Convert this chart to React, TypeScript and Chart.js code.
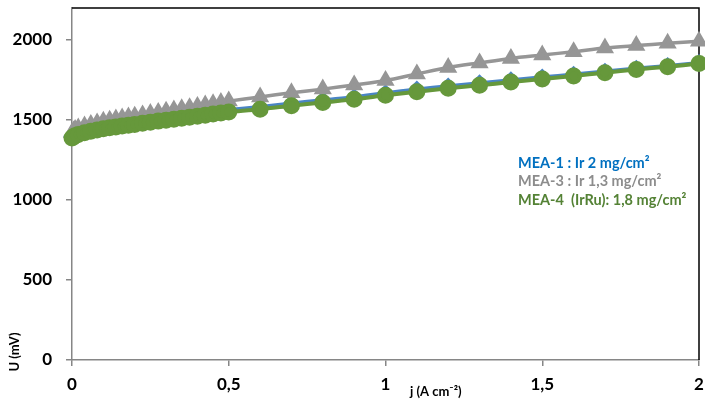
import React, { useEffect, useRef } from 'react';
import { Chart, registerables } from 'chart.js';

Chart.register(...registerables);

// Current density j (A cm-2)
const jValues = [
  0, 0.005, 0.01, 0.02, 0.04, 0.06, 0.08, 0.1, 0.12, 0.14, 0.16, 0.18, 0.2,
  0.225, 0.25, 0.275, 0.3, 0.325, 0.35, 0.375, 0.4, 0.425, 0.45, 0.475, 0.5,
  0.6, 0.7, 0.8, 0.9, 1.0, 1.1, 1.2, 1.3, 1.4, 1.5, 1.6, 1.7, 1.8, 1.9, 2.0,
];

// MEA-1 : Ir 2 mg/cm² (blue)
const mea1 = [
  1398, 1406, 1412, 1420, 1431, 1440, 1448, 1455, 1462, 1468, 1473, 1478, 1484,
  1491, 1498, 1505, 1511, 1517, 1523, 1529, 1535, 1542, 1549, 1556, 1563,
  1581, 1603, 1624, 1643, 1668, 1691, 1711, 1730, 1749, 1767, 1784, 1803, 1822, 1838, 1857,
];

// MEA-3 : Ir 1,3 mg/cm² (grey)
const mea3 = [
  1420, 1432, 1440, 1450, 1462, 1472, 1482, 1492, 1499, 1506, 1512, 1518, 1524,
  1532, 1540, 1547, 1555, 1562, 1570, 1577, 1585, 1593, 1601, 1609, 1618,
  1644, 1670, 1693, 1719, 1747, 1788, 1828, 1857, 1885, 1906, 1927, 1950, 1965, 1979, 1992,
];

// MEA-4 (IrRu): 1,8 mg/cm² (green)
const mea4 = [
  1388, 1396, 1402, 1410, 1421, 1430, 1438, 1445, 1451, 1457, 1462, 1467, 1472,
  1479, 1486, 1493, 1499, 1505, 1511, 1517, 1523, 1530, 1537, 1544, 1550,
  1567, 1589, 1610, 1629, 1654, 1677, 1698, 1717, 1737, 1756, 1775, 1796, 1816, 1833, 1853,
];

const xTicks = [0, 0.5, 1, 1.5, 2];
const yTicks = [0, 500, 1000, 1500, 2000];
const seriesLabels = ['MEA-1 : Ir 2 mg/cm²', 'MEA-3 : Ir 1,3 mg/cm²', 'MEA-4  (IrRu): 1,8 mg/cm²'];
const legendColors = ['#0070C0', '#8C8C8C', '#548235'];
const xTitle = 'j (A cm⁻²)';
const yTitle = 'U (mV)';

const FONT = 'Lato, "Open Sans", "Liberation Sans", sans-serif';

const toPoints = (ys: number[]) => jValues.map((x, i) => ({ x, y: ys[i] }));

const zeroPad = (s: any) => {
  s.paddingTop = 0;
  s.paddingBottom = 0;
  s.paddingLeft = 0;
  s.paddingRight = 0;
};

const decorPlugin = {
  id: 'decor',
  beforeDatasetsDraw(chart: any) {
    const { ctx, chartArea: a } = chart;
    ctx.save();
    ctx.strokeStyle = '#000000';
    ctx.lineWidth = 1.5;
    ctx.beginPath();
    ctx.moveTo(a.left, a.top);
    ctx.lineTo(a.right, a.top);
    ctx.lineTo(a.right, a.bottom);
    ctx.stroke();
    ctx.restore();
  },
  afterDraw(chart: any) {
    const { ctx, chartArea: a } = chart;
    ctx.save();
    // legend text
    ctx.font = `bold 14.5px ${FONT}`;
    ctx.textAlign = 'left';
    ctx.textBaseline = 'middle';
    const lx = a.left + 446;
    seriesLabels.forEach((t, i) => {
      ctx.fillStyle = legendColors[i];
      ctx.fillText(t, lx, a.top + 155 + i * 18.5);
    });
    // x title
    ctx.fillStyle = '#000';
    ctx.font = `bold 13px ${FONT}`;
    ctx.textAlign = 'left';
    ctx.fillText(xTitle, 410, 392);
    // y title
    ctx.font = `bold 13px ${FONT}`;
    ctx.translate(15, 352);
    ctx.rotate(-Math.PI / 2);
    ctx.textAlign = 'center';
    ctx.fillText(yTitle, 0, 0);
    ctx.restore();
  },
};

export default function App() {
  const ref = useRef<HTMLCanvasElement>(null);

  useEffect(() => {
    if (!ref.current) return;
    const chart = new Chart(ref.current, {
      type: 'scatter',
      data: {
        datasets: [
          {
            label: seriesLabels[2],
            data: toPoints(mea4),
            showLine: true,
            borderColor: '#66983B',
            backgroundColor: '#66983B',
            pointBackgroundColor: '#66983B',
            pointBorderColor: '#66983B',
            borderWidth: 4,
            pointRadius: 6.5,
            pointStyle: 'circle',
            tension: 0.3,
            order: 0,
            clip: false,
          },
          {
            label: seriesLabels[1],
            data: toPoints(mea3),
            showLine: true,
            borderColor: '#969696',
            backgroundColor: '#969696',
            pointBackgroundColor: '#969696',
            pointBorderColor: '#969696',
            borderWidth: 3.5,
            pointRadius: 7,
            pointStyle: 'triangle',
            tension: 0.3,
            order: 1,
            clip: false,
          },
          {
            label: seriesLabels[0],
            data: toPoints(mea1),
            showLine: true,
            borderColor: '#4A85C4',
            backgroundColor: '#4A85C4',
            pointBackgroundColor: '#4A85C4',
            pointBorderColor: '#4A85C4',
            borderWidth: 4,
            pointRadius: 6,
            pointStyle: 'rectRot',
            tension: 0.3,
            order: 2,
            clip: false,
          },
        ],
      },
      options: {
        responsive: false,
        animation: false,
        devicePixelRatio: 1,
        layout: { autoPadding: false, padding: { left: 0, right: 6, top: 8, bottom: 0 } },
        plugins: {
          legend: { display: false },
          tooltip: { enabled: false },
        },
        scales: {
          x: {
            type: 'linear',
            min: 0,
            max: 2,
            afterBuildTicks: (s: any) => {
              s.ticks = xTicks.map((v) => ({ value: v }));
            },
            afterFit: (s: any) => {
              s.height = 41;
              zeroPad(s);
            },
            ticks: {
              autoSkip: false,
              maxRotation: 0,
              padding: 8,
              color: '#000',
              font: { family: FONT, size: 17, weight: 'bold' },
              callback: (v: any) => String(v).replace('.', ','),
            },
            grid: {
              display: true,
              drawOnChartArea: false,
              drawTicks: true,
              tickLength: 6,
              color: '#868686',
              lineWidth: 1.5,
            },
            border: { display: true, color: '#868686', width: 1.5 },
          },
          y: {
            type: 'linear',
            min: 0,
            max: 2200,
            afterBuildTicks: (s: any) => {
              s.ticks = yTicks.map((v) => ({ value: v }));
            },
            afterFit: (s: any) => {
              s.width = 72;
              zeroPad(s);
            },
            ticks: {
              autoSkip: false,
              padding: 14,
              color: '#000',
              font: { family: FONT, size: 17, weight: 'bold' },
              callback: (v: any) => String(v),
            },
            grid: {
              display: true,
              drawOnChartArea: false,
              drawTicks: true,
              tickLength: 6,
              color: '#868686',
              lineWidth: 1.5,
            },
            border: { display: true, color: '#868686', width: 1.5 },
          },
        },
      },
      plugins: [decorPlugin],
    });
    return () => chart.destroy();
  }, []);

  return (
    <div style={{ position: 'absolute', left: 0, top: 0, width: 705, height: 401, background: '#fff' }}>
      <canvas ref={ref} width={705} height={401} style={{ display: 'block', width: 705, height: 401 }} />
    </div>
  );
}
